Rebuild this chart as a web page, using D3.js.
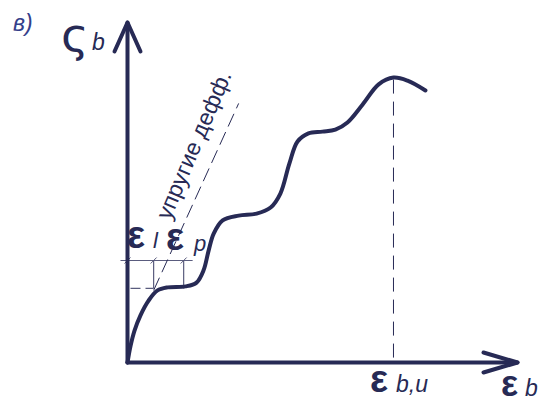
<!DOCTYPE html>
<html>
<head>
<meta charset="utf-8">
<script src="https://cdn.jsdelivr.net/npm/d3@7"></script>
<style>
  html, body { margin: 0; padding: 0; background: #fff; }
  svg { display: block; }
  text { font-family: "Liberation Sans", Arial, sans-serif; }
</style>
</head>
<body>
<script>
// Stress–strain diagram of concrete with stepwise creep plateaus
const strain = [0, 0.8, 1.8, 3.3, 5.4, 7.7, 10.3, 14.9, 17.7, 19.5, 20.8, 22.1, 24.4, 28.5, 33.1,
                36.7, 39.2, 41.5, 43.6, 46.4, 50.0, 53.3, 56.4, 60.3, 64.4, 68.2, 71.8, 76.4];
const stress = [0, 5.0, 9.4, 13.8, 18.2, 21.2, 22.1, 22.4, 23.5, 27.1, 32.9, 37.9, 41.8, 43.2, 43.8,
                45.6, 49.7, 58.5, 65.0, 67.4, 67.9, 68.5, 70.6, 75.9, 81.8, 83.8, 82.9, 80.0];

// Ultimate strain at peak stress
const ultimateStrain = 68.2;
const peakStress = 83.8;

// Elastic deformation line (dashed)
const elasticLine = [[6.7, 21.2], [28.5, 76.2]];

// Elastic / plastic strain construction
const levelStress = 30;       // horizontal reference line
const plateauStress = 21.8;   // first plateau level
const elasticStrain = 6.7;    // ε_l
const plasticStrain = 14.4;   // ε_p
const gridStart = -1.8, gridEnd = 16.7;

const W = 553, H = 403;
const ink = "#272a55";

const svg = d3.select("body").append("svg").attr("width", W).attr("height", H);

const x = d3.scaleLinear().domain([0, 100]).range([127.5, 517.5]);
const y = d3.scaleLinear().domain([0, 100]).range([362.5, 22.5]);

// Thin construction lines
const g = svg.append("g").attr("stroke", "#5a5c7e").attr("fill", "none");
g.append("line")
  .attr("x1", x(gridStart)).attr("x2", x(gridEnd))
  .attr("y1", y(levelStress)).attr("y2", y(levelStress))
  .attr("stroke-width", 1.2);
[elasticStrain, plasticStrain].forEach(s => {
  g.append("line")
    .attr("x1", x(s)).attr("x2", x(s))
    .attr("y1", y(levelStress)).attr("y2", y(plateauStress))
    .attr("stroke-width", 1.2);
});
// small slashes at intersections
[0, elasticStrain, plasticStrain].forEach(s => {
  g.append("line")
    .attr("x1", x(s) - 3).attr("x2", x(s) + 3)
    .attr("y1", y(levelStress) + 3).attr("y2", y(levelStress) - 3)
    .attr("stroke-width", 1);
});
// dashed plateau level
g.append("line")
  .attr("x1", x(0) + 3).attr("x2", x(elasticStrain))
  .attr("y1", y(plateauStress)).attr("y2", y(plateauStress))
  .attr("stroke-width", 1.2).attr("stroke-dasharray", "10 5");

// Elastic deformation dashed line
svg.append("line")
  .attr("x1", x(elasticLine[0][0])).attr("y1", y(elasticLine[0][1]))
  .attr("x2", x(elasticLine[1][0])).attr("y2", y(elasticLine[1][1]))
  .attr("stroke", ink).attr("stroke-width", 1).attr("stroke-dasharray", "14 6");

// Ultimate strain dashed vertical
svg.append("line")
  .attr("x1", x(ultimateStrain)).attr("x2", x(ultimateStrain))
  .attr("y1", y(peakStress) + 2).attr("y2", y(0))
  .attr("stroke", ink).attr("stroke-width", 1).attr("stroke-dasharray", "14 8");

// Axes with open arrowheads
const axes = svg.append("g").attr("stroke", ink).attr("fill", "none")
  .attr("stroke-width", 4).attr("stroke-linecap", "round").attr("stroke-linejoin", "round");
axes.append("line").attr("x1", x(0)).attr("y1", y(0)).attr("x2", x(0)).attr("y2", y(100));
axes.append("line").attr("x1", x(0)).attr("y1", y(0)).attr("x2", x(100)).attr("y2", y(0));
axes.append("path").attr("d", d3.line()([[x(0) - 13, y(100) + 29], [x(0), y(100)], [x(0) + 13, y(100) + 29]]));
axes.append("path").attr("d", d3.line()([[x(100) - 34, y(0) - 10], [x(100), y(0)], [x(100) - 34, y(0) + 10]]));

// Stress–strain curve
svg.append("path")
  .datum(strain.map((s, i) => [s, stress[i]]))
  .attr("fill", "none").attr("stroke", ink).attr("stroke-width", 4)
  .attr("stroke-linecap", "round")
  .attr("d", d3.line().x(d => x(d[0])).y(d => y(d[1])).curve(d3.curveCatmullRom.alpha(0.5)));

// Labels
const t = svg.append("g").attr("fill", ink);
t.append("text").attr("x", 13).attr("y", 31).attr("font-size", 23).attr("font-style", "italic")
  .attr("fill", "#34408a").text("в)");

t.append("text").attr("x", 61).attr("y", 51).attr("font-size", 47)
  .style("font-family", "'DejaVu Sans', sans-serif").text("ς");
t.append("text").attr("x", 92).attr("y", 50).attr("font-size", 23).attr("font-style", "italic").text("b");

t.append("text").attr("x", 127).attr("y", 248).attr("font-size", 38).attr("font-weight", "bold").text("ε");
t.append("text").attr("x", 153).attr("y", 248).attr("font-size", 22).attr("font-style", "italic").text("l");
t.append("text").attr("x", 166).attr("y", 250).attr("font-size", 38).attr("font-weight", "bold").text("ε");
t.append("text").attr("x", 194).attr("y", 251).attr("font-size", 22).attr("font-style", "italic").text("p");

t.append("text").attr("x", 370).attr("y", 392).attr("font-size", 38).attr("font-weight", "bold").text("ε");
t.append("text").attr("x", 396).attr("y", 392).attr("font-size", 23).attr("font-style", "italic").text("b,u");

t.append("text").attr("x", 501).attr("y", 396).attr("font-size", 36).attr("font-weight", "bold").text("ε");
t.append("text").attr("x", 525).attr("y", 396).attr("font-size", 23).attr("font-style", "italic").text("b");

t.append("text")
  .attr("transform", "translate(170,221) rotate(-67)")
  .attr("font-size", 23).text("упругие дефф.");
</script>
</body>
</html>
